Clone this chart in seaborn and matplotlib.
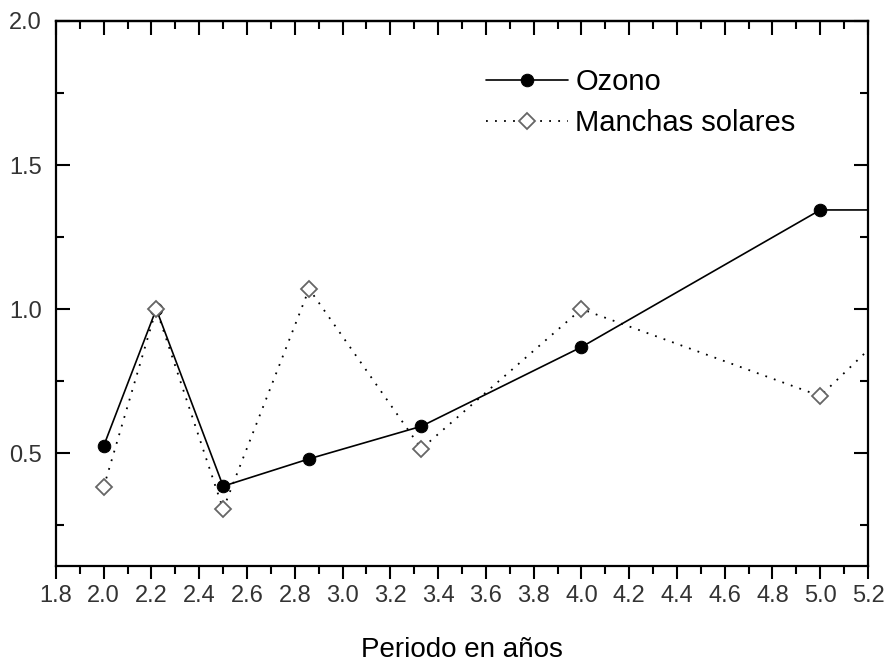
# coding: utf-8
"""Ozono vs manchas solares: periodo en años."""

import matplotlib

matplotlib.use("Agg")
import matplotlib.pyplot as plt
import pandas as pd
import seaborn as sns
from matplotlib.ticker import MultipleLocator

# periodos (años) y amplitudes
periodo = [2.0, 2.22, 2.5, 2.86, 3.33, 4.0, 5.0, 6.67]
ozono = [0.525, 1.0, 0.385, 0.48, 0.593, 0.868, 1.344, 1.344]
manchas = [0.382, 1.0, 0.305, 1.07, 0.515, 1.0, 0.698, 2.03]
x_ticks = [1.8, 2.0, 2.2, 2.4, 2.6, 2.8, 3.0, 3.2, 3.4, 3.6, 3.8, 4.0, 4.2, 4.4, 4.6, 4.8, 5.0, 5.2]
y_ticks = [0.5, 1.0, 1.5, 2.0]

df = pd.DataFrame({"periodo": periodo, "Ozono": ozono, "Manchas solares": manchas})

sns.set_style("ticks")
plt.rcParams["font.family"] = ["Liberation Sans", "DejaVu Sans"]
plt.rcParams["text.color"] = "black"

fig = plt.figure(figsize=(8.88, 6.64), dpi=100)
ax = fig.add_axes([0.063, 0.1476, 0.9145, 0.8208])

sns.lineplot(
    data=df, x="periodo", y="Ozono", ax=ax, sort=False,
    color="black", linewidth=1.2, linestyle="-",
    marker="o", markersize=9, markerfacecolor="black", markeredgecolor="black",
    label="Ozono",
)
sns.lineplot(
    data=df, x="periodo", y="Manchas solares", ax=ax, sort=False,
    color="black", linewidth=1.3, linestyle=(0, (1, 4)),
    marker="D", markersize=8.5, markerfacecolor="white", markeredgecolor="#666666",
    markeredgewidth=1.3, label="Manchas solares",
)

ax.set_xlim(1.8, 5.2)
ax.set_ylim(0.108, 2.0)
ax.set_xticks(x_ticks)
ax.set_xticklabels([f"{v:.1f}" for v in x_ticks])
ax.xaxis.set_minor_locator(MultipleLocator(0.1))
ax.set_yticks(y_ticks)
ax.set_yticklabels([f"{v:.1f}" for v in y_ticks])
ax.yaxis.set_minor_locator(MultipleLocator(0.25))

ax.set_xlabel("Periodo en años", fontsize=20, labelpad=21, color="black")
ax.set_ylabel("")

for side in ["left", "right", "top", "bottom"]:
    ax.spines[side].set_visible(True)
    ax.spines[side].set_linewidth(1.6)
    ax.spines[side].set_color("black")

ax.tick_params(axis="x", which="both", direction="out", bottom=True, top=False,
               labelsize=17, labelcolor="#333333", color="black", width=1.5, pad=5)
ax.tick_params(axis="x", which="major", length=9)
ax.tick_params(axis="x", which="minor", length=6)
ax.tick_params(axis="y", which="both", direction="in", left=True, right=True,
               labelsize=17, labelcolor="#333333", color="black", width=1.5, pad=10)
ax.tick_params(axis="y", which="major", length=10)
ax.tick_params(axis="y", which="minor", length=6)

# ticks interiores en el borde superior
top = ax.secondary_xaxis("top")
top.xaxis.set_major_locator(MultipleLocator(0.2))
top.xaxis.set_minor_locator(MultipleLocator(0.1))
top.tick_params(axis="x", which="both", direction="in", labeltop=False,
                color="black", width=1.5)
top.tick_params(axis="x", which="major", length=10)
top.tick_params(axis="x", which="minor", length=6)
top.spines["top"].set_linewidth(1.6)
top.spines["top"].set_color("black")

ax.legend(
    loc="upper left", bbox_to_anchor=(0.512, 0.94), frameon=False,
    fontsize=21, handlelength=2.8, handletextpad=0.25, labelspacing=0.45,
    borderpad=0, labelcolor="black",
)

fig.savefig("out.png", dpi=100)
